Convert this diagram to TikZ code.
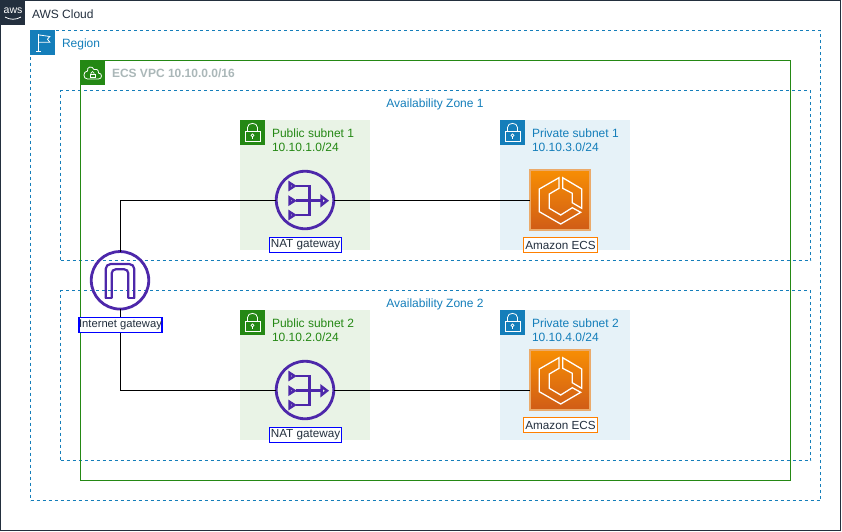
\documentclass[tikz,border=0pt]{standalone}
\usepackage{fontspec}
\setmainfont{Liberation Sans}
\usetikzlibrary{positioning}
\definecolor{awsnavy}{HTML}{232F3E}
\definecolor{awsblue}{HTML}{147EBA}
\definecolor{awsgreen}{HTML}{248814}
\definecolor{awspurple}{HTML}{4D27AA}
\definecolor{vpcgray}{HTML}{AAB7B8}
\definecolor{pubfill}{HTML}{E9F3E6}
\definecolor{privfill}{HTML}{E6F2F8}
\definecolor{ecstop}{HTML}{F78E04}
\definecolor{ecsbot}{HTML}{D05C17}
\definecolor{ecsedge}{HTML}{EBAA6A}
\definecolor{tagorange}{HTML}{FF8000}
\tikzset{
  every node/.append style={outer sep=0pt},
  txt/.style={font=\fontsize{12}{14}\selectfont,inner sep=0pt,align=left},
  zonebox/.style={draw=awsblue,dash pattern=on 3pt off 3pt,line width=1.1pt,inner sep=0pt,anchor=north west},
  subnetbox/.style={inner sep=0pt,anchor=north west,minimum width=130pt,minimum height=130pt},
  iconbox/.style={inner sep=0pt,anchor=north west,minimum size=25pt},
  gwround/.style={circle,draw=awspurple,line width=2.8pt,inner sep=0pt,minimum size=57.5pt},
  ecsbox/.style={inner sep=0pt,minimum size=60pt,draw=ecsedge,line width=1.1pt,top color=ecstop,bottom color=ecsbot},
  tag/.style={txt,font=\fontsize{11.7}{14}\selectfont,draw=blue,fill=white,text=awsnavy,line width=1.2pt,minimum height=15pt,align=center},
  ecstag/.style={tag,draw=tagorange},
  wire/.style={draw=black,line width=1pt},
  lockglyph/.pic={
    \draw[white,line width=.8pt] (-7,-1) rectangle (7.5,9);
    \draw[white,line width=.8pt] (-5,-1) -- (-5,-5) .. controls (-5,-10.5) and (5,-10.5) .. (5,-5) -- (5,-1);
    \draw[white,line width=.7pt] (0,2.8) circle (1.5);
    \draw[white,line width=.7pt] (0,4.3) -- (0,6.8);
  },
  flagglyph/.pic={
    \draw[white,line width=.8pt] (-4.3,-8.3) -- (-4.3,9) (-6.5,9) -- (-2,9);
    \draw[white,line width=.8pt] (-4.3,-7.7) -- (7.3,-6) -- (5,-3.3) -- (7.3,-.3) -- (-4.3,-.3);
  },
  cloudglyph/.pic={
    \draw[white,line width=.8pt] (-5,6.5) -- (6,6.5) .. controls (10,6.5) and (10,.5) .. (6,.5) .. controls (6.5,-3) and (3,-4) .. (1.5,-3) .. controls (0,-7) and (-6,-6) .. (-5,-1.5) .. controls (-9.5,-1.5) and (-10,6.5) .. (-5,6.5) -- cycle;
    \draw[white,line width=.7pt] (-2.5,1.5) rectangle (2.5,5);
    \draw[white,line width=.7pt] (-1.5,1.5) -- (-1.5,.5) .. controls (-1.5,-1.5) and (1.5,-1.5) .. (1.5,.5) -- (1.5,1.5);
  },
  natglyph/.pic={
    \foreach \yy in {-14,.7,15}{
      \draw[awspurple,line width=2.5pt,line join=miter] (-15.5,\yy-3.2) -- (-10.5,\yy) -- (-15.5,\yy+3.2) -- cycle;
    }
    \draw[awspurple,line width=2.5pt] (-9,-14) -- (4.7,-14) -- (4.7,15) -- (-9,15) (-9,.7) -- (16,.7);
    \draw[awspurple,line width=2.5pt,line join=miter] (16.5,-3.5) -- (22,.7) -- (16.5,5) -- cycle;
  },
  igwglyph/.pic={
    \draw[awspurple,line width=2.2pt,rounded corners=5pt] (-14.3,18.3) -- (-14.3,-16) -- (14.3,-16) -- (14.3,18.3);
    \draw[awspurple,line width=2.2pt] (-15.3,18.3) -- (-8.3,18.3) (8.3,18.3) -- (15.3,18.3);
    \draw[awspurple,line width=2.2pt,rounded corners=4pt] (-8.3,18.3) -- (-8.3,-10.7) -- (8.3,-10.7) -- (8.3,18.3);
  },
  ecsglyph/.pic={
    \draw[white,line width=1.3pt,line join=miter] (-1,-22.3) -- (-20.7,-11) -- (-20.7,11.7) -- (.7,24) -- (20.7,12.3) -- (12.3,7.7) -- (.7,15) -- (-10.7,8.3) -- (-10.7,-6) -- (-1,-11.7) -- cycle;
    \draw[white,line width=1.3pt,line join=miter] (2.7,-22.3) -- (21.7,-11) -- (21.7,8.3) -- (12.3,2.7) -- (12.3,-6.7) -- (2.7,-11.7) -- cycle;
  }
}
\begin{document}
\begin{tikzpicture}[x=1pt,y=-1pt]
  \useasboundingbox (0,0) rectangle (842,531);
  % groups
  \node (cloud) [draw=awsnavy,line width=1.1pt,inner sep=0pt,anchor=north west,minimum width=840pt,minimum height=530pt] at (.5,.5) {};
  \node (pubA) [subnetbox,fill=pubfill] at (240,120) {};
  \node (privA) [subnetbox,fill=privfill] at (500,120) {};
  \node (pubB) [subnetbox,fill=pubfill] at (240,310) {};
  \node (privB) [subnetbox,fill=privfill] at (500,310) {};
  \node (region) [zonebox,minimum width=790pt,minimum height=470pt] at (30.5,30.5) {};
  \node (zoneA) [zonebox,minimum width=750pt,minimum height=170pt] at (60.5,90.5) {};
  \node (zoneB) [zonebox,minimum width=750pt,minimum height=170pt] at (60.5,290.5) {};
  \node (vpc) [draw=awsgreen,line width=1.1pt,inner sep=0pt,anchor=north west,minimum width=710pt,minimum height=420pt] at (80.5,60.5) {};
  % corner icons
  \node (cloudicon) [iconbox,fill=awsnavy] at (0,0) {};
  \node (regionicon) [iconbox,fill=awsblue] at (30,30) {};
  \node (vpcicon) [iconbox,fill=awsgreen] at (80,60) {};
  \node (pubAicon) [iconbox,fill=awsgreen] at (240,120) {};
  \node (privAicon) [iconbox,fill=awsblue] at (500,120) {};
  \node (pubBicon) [iconbox,fill=awsgreen] at (240,310) {};
  \node (privBicon) [iconbox,fill=awsblue] at (500,310) {};
  \node (awsword) [inner sep=0pt,text=white,font=\fontsize{10.5}{10}\selectfont] at (13,10.5) {aws};
  \draw[white,line width=.8pt] (5,17) .. controls (10,20) and (16,20) .. (21,17);
  \pic at (42.5,42.5) {flagglyph};
  \pic at (92.5,72.5) {cloudglyph};
  \foreach \pos in {(252.5,132.5),(512.5,132.5),(252.5,322.5),(512.5,322.5)}{
    \pic at \pos {lockglyph};
  }
  % group titles
  \node (cloudtxt) [txt,anchor=west,text=awsnavy] at (32,14) {AWS Cloud};
  \node (regiontxt) [txt,anchor=west,text=awsblue] at (62,44) {Region};
  \node (vpctxt) [txt,anchor=west,text=vpcgray,font=\fontsize{12}{14}\selectfont\bfseries] at (112,73.5) {ECS VPC 10.10.0.0/16};
  \node (zoneAtxt) [txt,text=awsblue] at (435,104) {Availability Zone 1};
  \node (zoneBtxt) [txt,text=awsblue] at (435,304) {Availability Zone 2};
  \node (pubAtxt) [txt,anchor=west,text=awsgreen] at (272,140) {Public subnet 1\\10.10.1.0/24};
  \node (privAtxt) [txt,anchor=west,text=awsblue] at (532,140) {Private subnet 1\\10.10.3.0/24};
  \node (pubBtxt) [txt,anchor=west,text=awsgreen] at (272,330) {Public subnet 2\\10.10.2.0/24};
  \node (privBtxt) [txt,anchor=west,text=awsblue] at (532,330) {Private subnet 2\\10.10.4.0/24};
  % services
  \node (igw) [gwround] at (120,280.3) {};
  \node (natA) [gwround] at (305,200) {};
  \node (natB) [gwround] at (305,390) {};
  \node (ecsA) [ecsbox] at (560,200) {};
  \node (ecsB) [ecsbox] at (560,380) {};
  \pic at (120,280) {igwglyph};
  \pic at (305,200) {natglyph};
  \pic at (305,390) {natglyph};
  \pic at (560,200) {ecsglyph};
  \pic at (560,380) {ecsglyph};
  % links
  \draw[wire] (igw.north) |- (natA.west);
  \draw[wire] (igw.south) |- (natB.west);
  \draw[wire] (natA.east) -- (ecsA.west);
  \draw[wire] (natB.east) -- (natB.east -| ecsB.west);
  % service labels
  \node (natAtag) [tag,minimum width=72pt,anchor=north] at (305.5,237.5) {NAT gateway};
  \node (natBtag) [tag,minimum width=72pt,anchor=north] at (305.5,427.5) {NAT gateway};
  \node (ecsAtag) [ecstag,minimum width=74pt,anchor=north] at (560.5,237.5) {Amazon ECS};
  \node (ecsBtag) [ecstag,minimum width=74pt,anchor=north] at (560.5,417.5) {Amazon ECS};
  \node (igwtag) [tag,font=\fontsize{11.2}{14}\selectfont,minimum width=82pt,anchor=north] at (120.5,317.5) {Internet gateway};
\end{tikzpicture}
\end{document}
